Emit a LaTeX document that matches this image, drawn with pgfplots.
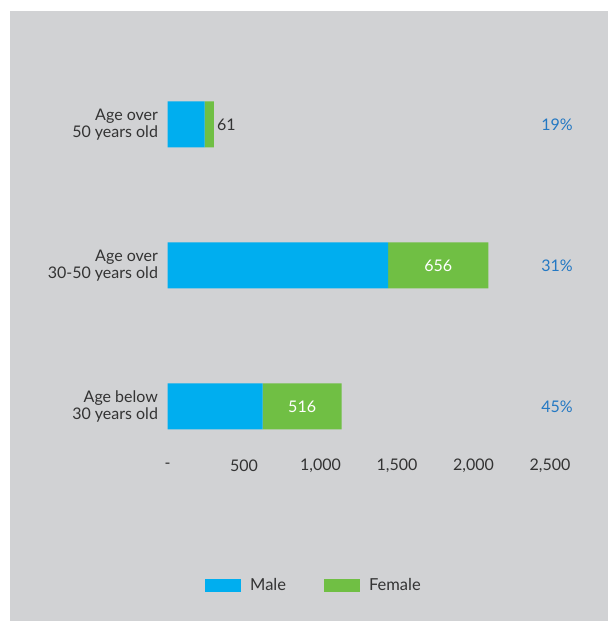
\documentclass[border=0pt]{standalone}
\usepackage{pgfplots}
\pgfplotsset{compat=1.18}
\usepackage{fontspec}
\setmainfont{Lato}
\definecolor{bgGrey}{RGB}{209,210,212}
\definecolor{maleBlue}{RGB}{0,174,239}
\definecolor{femGreen}{RGB}{112,191,68}
\definecolor{txt}{RGB}{51,51,51}
\definecolor{pctBlue}{RGB}{35,120,195}
\begin{document}
\begin{tikzpicture}[x=1pt,y=1pt]
\useasboundingbox (0,0) rectangle (609,621);
\fill[white] (0,0) rectangle (609,621);
\fill[bgGrey] (10,0) rectangle (608,610);
\begin{axis}[
  at={(167.5pt,144pt)}, anchor=south west,
  scale only axis, width=382.5pt, height=423pt,
  xbar stacked, bar width=46pt,
  xmin=0, xmax=2500, ymin=-0.5, ymax=2.5,
  clip=false,
  axis line style={draw=none}, tick style={draw=none},
  xtick={0,500,1000,1500,2000,2500},
  xticklabels={-,500,{1,000},{1,500},{2,000},{2,500}},
  ytick={0,1,2},
  yticklabels={{Age below\\30 years old},{Age over\\30-50 years old},{Age over\\50 years old}},
  tick label style={font=\fontsize{16}{17}\selectfont, text=txt},
  yticklabel style={align=right, xshift=-6pt},
  xticklabel style={anchor=center, yshift=11pt},
  legend columns=2,
  legend style={draw=none, fill=none, inner sep=0pt, anchor=west, at={(0.098,-0.2565)},
    font=\fontsize{16.5}{17}\selectfont, text=txt,
    /tikz/every even column/.append style={column sep=36pt}},
  legend image code/.code={\fill[#1] (0pt,-6.5pt) rectangle (36pt,6.5pt); \path (43pt,0pt);},
]
\addplot[fill=maleBlue, draw=none] coordinates {(622,0) (1442,1) (242,2)};
\addlegendentry{Male}
\addplot[fill=femGreen, draw=none] coordinates {(516,0) (656,1) (61,2)};
\addlegendentry{Female}
\coordinate (f0) at (axis cs:880,0);
\coordinate (f1) at (axis cs:1770,1);
\coordinate (f2) at (axis cs:303,2);
\coordinate (p2) at (axis cs:2546,2);
\coordinate (p1) at (axis cs:2546,1);
\coordinate (p0) at (axis cs:2546,0);
\end{axis}
\begin{scope}[font=\fontsize{16}{17}\selectfont]
\node[text=white] at (f0) {516};
\node[text=white] at (f1) {656};
\node[text=txt, anchor=west, inner sep=3pt] at (f2) {61};
\node[text=pctBlue] at (p2) {19\%};
\node[text=pctBlue] at (p1) {31\%};
\node[text=pctBlue] at (p0) {45\%};
\end{scope}
\end{tikzpicture}
\end{document}
